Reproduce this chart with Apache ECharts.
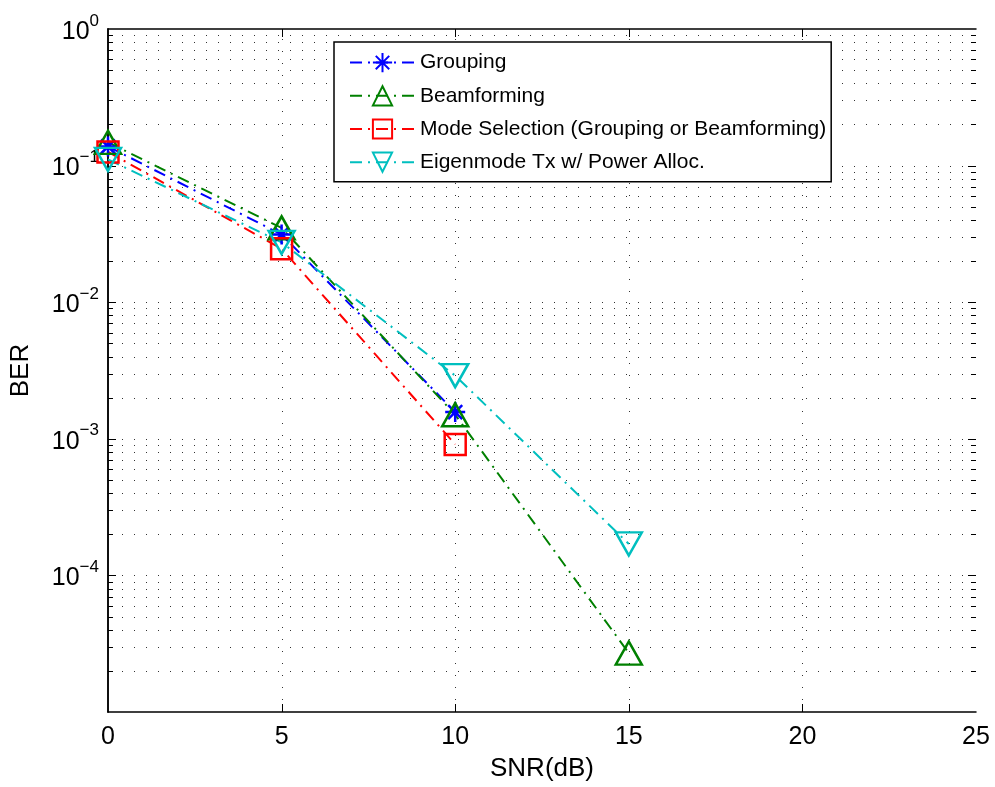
<!DOCTYPE html>
<html>
<head>
<meta charset="utf-8">
<script src="https://cdn.jsdelivr.net/npm/echarts@6/dist/echarts.min.js"></script>
<style>
html,body{margin:0;padding:0;background:#fff;}
#chart{width:995px;height:787px;}
</style>
</head>
<body>
<div id="chart"></div>
<script>
// ---- data ----
const snrGrouping = [0, 5, 10];
const berGrouping = [0.138, 0.0313, 1.57e-3];
const snrBeam = [0, 5, 10, 15];
const berBeam = [0.148, 0.035, 1.5e-3, 2.7e-5];
const snrMode = [0, 5, 10];
const berMode = [0.126, 0.0246, 9.1e-4];
const snrEigen = [0, 5, 10, 15];
const berEigen = [0.111, 0.0274, 2.9e-3, 1.7e-4];
const seriesNames = ['Grouping', 'Beamforming', 'Mode Selection (Grouping or Beamforming)', 'Eigenmode Tx w/ Power Alloc.'];
const xTicks = [0, 5, 10, 15, 20, 25];
const yDecades = [-5, -4, -3, -2, -1, 0];

const xMin = xTicks[0], xMax = xTicks[xTicks.length - 1];
const yMin = Math.pow(10, yDecades[0]), yMax = Math.pow(10, yDecades[yDecades.length - 1]);

// minor log grid values (2..9 x 10^d)
const minorVals = [];
for (let i = 0; i < yDecades.length - 1; i++) {
  for (let m = 2; m <= 9; m++) minorVals.push(m * Math.pow(10, yDecades[i]));
}
const majorVals = yDecades.map(d => Math.pow(10, d));

const FONT = '"Liberation Sans", Arial, Helvetica, sans-serif';
const dashDot = [12, 6, 2, 6];
const gridDot = [1, 11];
const gridColor = '#333';

function pair(xs, ys) { return xs.map((x, i) => [x, ys[i]]); }

const asterisk = 'path://M10,0L10,20M0,10L20,10M3,3L17,17M3,17L17,3';

const chart = echarts.init(document.getElementById('chart'), null, {renderer: 'canvas'});

const gridRender = function (params, api) {
  const v = api.value(1);
  const isMajor = api.value(2) === 1;
  const a = api.coord([xMin, v]);
  const b = api.coord([xMax, v]);
  const y = Math.round(a[1]) + 0.5;
  const tl = isMajor ? 8 : 5;
  const children = [
    {type: 'line', shape: {x1: a[0] + 2, y1: y, x2: b[0], y2: y}, style: {stroke: gridColor, lineWidth: 1, lineDash: gridDot}},
    {type: 'line', shape: {x1: a[0], y1: y, x2: a[0] + tl, y2: y}, style: {stroke: '#000', lineWidth: 1}},
    {type: 'line', shape: {x1: b[0] - tl, y1: y, x2: b[0], y2: y}, style: {stroke: '#000', lineWidth: 1}}
  ];
  return {type: 'group', children: children};
};

const vGridRender = function (params, api) {
  const xv = api.value(0);
  const a = api.coord([xv, yMin]);
  const b = api.coord([xv, yMax]);
  const x = Math.round(a[0]) + 0.5;
  return {type: 'group', children: [
    {type: 'line', shape: {x1: x, y1: a[1], x2: x, y2: b[1]}, style: {stroke: gridColor, lineWidth: 1, lineDash: gridDot}},
    {type: 'line', shape: {x1: x, y1: a[1], x2: x, y2: a[1] - 8}, style: {stroke: '#000', lineWidth: 1}},
    {type: 'line', shape: {x1: x, y1: b[1], x2: x, y2: b[1] + 8}, style: {stroke: '#000', lineWidth: 1}}
  ]};
};

const hData = minorVals.map(v => [xMin, v, 0]).concat(majorVals.slice(1, -1).map(v => [xMin, v, 1]));
const vData = xTicks.slice(1, -1).map(x => [x, yMin]);

function lineSeries(name, data, color, symbol, size, rotate) {
  return {
    name: name,
    type: 'line',
    data: data,
    symbol: symbol,
    symbolSize: size,
    symbolRotate: rotate || 0,
    showAllSymbol: true,
    z: 3,
    lineStyle: {color: color, width: 2, type: dashDot},
    itemStyle: {color: 'rgba(0,0,0,0)', borderColor: color, borderWidth: 2.5},
    emphasis: {disabled: true},
    animation: false
  };
}

const option = {
  animation: false,
  color: ['#0000ff', '#008000', '#ff0000', '#00bfbf'],
  grid: {left: 107, top: 29, right: 19, bottom: 74, containLabel: false},
  legend: {
    data: seriesNames,
    orient: 'vertical',
    left: 334,
    top: 42,
    width: 498,
    padding: [10, 5, 9, 15],
    itemGap: 12,
    itemWidth: 65,
    itemHeight: 24,
    backgroundColor: '#fff',
    borderColor: '#000',
    borderWidth: 1.5,
    textStyle: {fontFamily: FONT, fontSize: 21, color: '#000'},
    selectedMode: false
  },
  xAxis: [{
    type: 'value', min: xMin, max: xMax, interval: 5,
    name: 'SNR(dB)', nameLocation: 'middle', nameGap: 44,
    nameTextStyle: {fontFamily: FONT, fontSize: 26, color: '#000'},
    axisLine: {lineStyle: {color: '#000', width: 1.5}},
    axisTick: {show: false},
    axisLabel: {fontFamily: FONT, fontSize: 25, color: '#000', margin: 13},
    splitLine: {show: false}
  }, {
    type: 'value', min: xMin, max: xMax, interval: 5, position: 'top',
    axisLine: {show: true, lineStyle: {color: '#000', width: 1.5}},
    axisTick: {show: false}, axisLabel: {show: false}, splitLine: {show: false}
  }],
  yAxis: [{
    type: 'log', logBase: 10, min: yMin, max: yMax,
    name: 'BER', nameLocation: 'middle', nameGap: 74,
    nameTextStyle: {fontFamily: FONT, fontSize: 26, color: '#000'},
    axisLine: {lineStyle: {color: '#000', width: 1.5}},
    axisTick: {show: false},
    axisLabel: {
      showMinLabel: false, margin: 9,
      formatter: function (v) {
        const e = Math.round(Math.log10(v));
        return '{b|10}{s|' + (e < 0 ? '\u2212' + (-e) : e) + '}';
      },
      rich: {
        b: {fontFamily: FONT, fontSize: 25, color: '#000', padding: [6, 0, 0, 0]},
        s: {fontFamily: FONT, fontSize: 17, color: '#000', padding: [0, 0, 16, 0]}
      }
    },
    splitLine: {show: false}
  }, {
    type: 'log', logBase: 10, min: yMin, max: yMax, position: 'right',
    axisLine: {show: true, lineStyle: {color: '#000', width: 1.5}},
    axisTick: {show: false}, axisLabel: {show: false}, splitLine: {show: false}
  }],
  series: [
    {type: 'custom', name: 'hgrid', silent: true, z: 1, renderItem: gridRender, data: hData, clip: false, animation: false},
    {type: 'custom', name: 'vgrid', silent: true, z: 1, renderItem: vGridRender, data: vData, clip: false, animation: false},
    lineSeries(seriesNames[0], pair(snrGrouping, berGrouping), '#0000ff', asterisk, 20),
    lineSeries(seriesNames[1], pair(snrBeam, berBeam), '#008000', 'triangle', [26, 23]),
    lineSeries(seriesNames[2], pair(snrMode, berMode), '#ff0000', 'rect', 21),
    lineSeries(seriesNames[3], pair(snrEigen, berEigen), '#00bfbf', 'triangle', [26, 23], 180)
  ]
};
chart.setOption(option);
</script>
</body>
</html>
